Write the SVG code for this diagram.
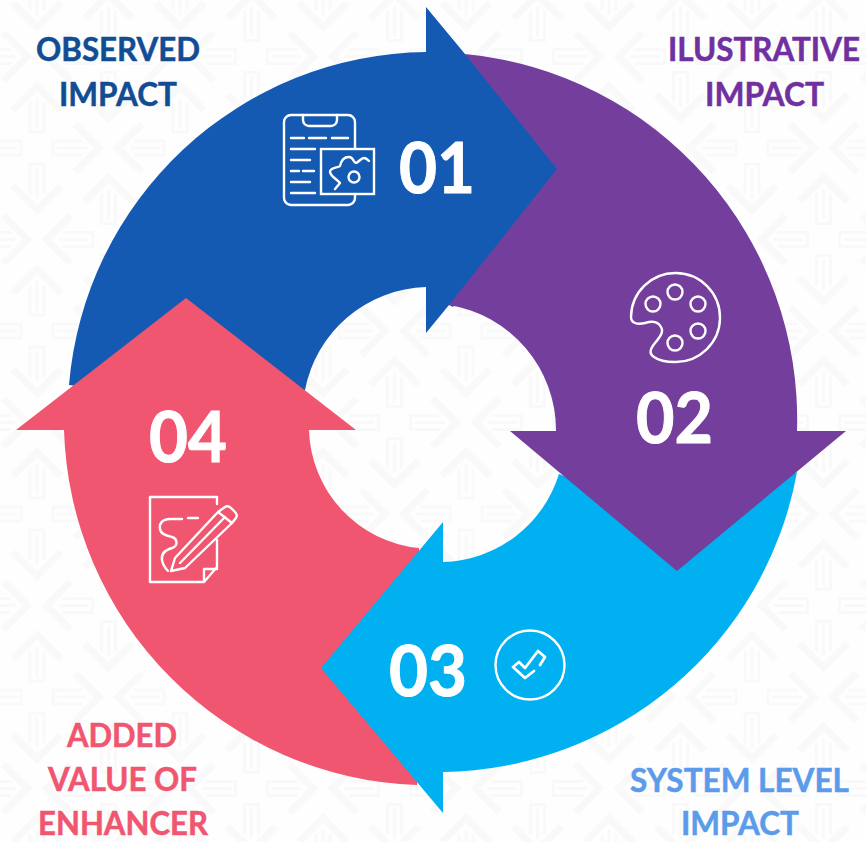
<svg xmlns="http://www.w3.org/2000/svg" width="866" height="842" viewBox="0 0 866 842">
<style>
.lbl{font-family:"Lato","Open Sans","Liberation Sans",sans-serif;font-weight:700;font-size:32px;text-anchor:middle;stroke-width:.5}
.num{font-family:"Lato","Open Sans","Liberation Sans",sans-serif;font-weight:700;font-size:71px;fill:#fff;stroke:#fff;stroke-width:1;text-anchor:middle}
.ic{fill:none;stroke:#fff;stroke-width:2.4;stroke-linecap:round;stroke-linejoin:round}
.pa{fill:none;stroke:#f9f9f9;stroke-width:7;stroke-linejoin:miter}
.pb{fill:none;stroke:#f9f9f9;stroke-width:3}
</style>
<defs>
<g id="ar"><path class="pa" d="M-24 -38 L0 -62 L24 -38"/><path class="pb" d="M-7 -46 V-16 H7 V-46 M0 -50 V-20"/></g>
<g id="cr"><use href="#ar"/><use href="#ar" transform="rotate(90)"/><use href="#ar" transform="rotate(180)"/><use href="#ar" transform="rotate(270)"/></g>
<pattern id="bgp" patternUnits="userSpaceOnUse" x="37" y="148" width="143" height="183">
<use href="#cr"/><use href="#cr" x="143"/><use href="#cr" y="183"/><use href="#cr" x="143" y="183"/><use href="#cr" x="71.5" y="91.5"/>
</pattern>
</defs>
<rect id="background" width="866" height="842" fill="#fefefe"/>
<rect width="866" height="842" fill="url(#bgp)"/>
<g id="node-01">
<path fill="#145ab2" d="M69 385 A363 363 0 0 1 426 52 V7 L465 54 L470 58 L562 169 L453 307 L449 305 L426 333 V287 A127 127 0 0 0 305 390 L186 400 Z"/>
<text class="num" x="437" y="193" textLength="76" lengthAdjust="spacingAndGlyphs">01</text>
<path class="ic" d="M355 148 V122 A7 7 0 0 0 348 115 H291 A7 7 0 0 0 284 122 V198 A7 7 0 0 0 291 205 H348 A7 7 0 0 0 355 198 V194"/>
<path class="ic" d="M303 115 V120 A6 6 0 0 0 309 126 H331 A6 6 0 0 0 337 120 V115"/>
<path class="ic" d="M291 138 H304 M309 138 H326 M332 138 H348 M291 149 H315 M291 160 H310 M291 171 H299 M303 171 H314 M291 182 H310 M291 193 H315"/>
<rect class="ic" x="321" y="149" width="53" height="45" style="stroke-linejoin:miter"/>
<path class="ic" d="M335 189 L340 183 C337 179 331 177 330 172 C330 167 338 168 340 166 C341 161 344 157 349 157 C354 157 353 163 356 163 C359 162 361 158 364 158 C366 158 368 160 369 161"/>
<circle class="ic" cx="354" cy="177" r="5.500"/>
<text class="lbl" x="118" y="61" fill="#124d94" stroke="#124d94" textLength="164" lengthAdjust="spacingAndGlyphs">OBSERVED</text>
<text class="lbl" x="118" y="106" fill="#124d94" stroke="#124d94" textLength="118" lengthAdjust="spacingAndGlyphs">IMPACT</text>
</g>
<g id="node-04">
<path fill="#f0566f" d="M64 430 A366 366 0 0 0 417 785 L430 668 L419 548 A122 122 0 0 1 309 430 H356 L186 298 L16 430 Z"/>
<text class="num" x="188" y="462" textLength="78" lengthAdjust="spacingAndGlyphs">04</text>
<path class="ic" d="M217 504 V497 H150 V582 H204 L217 567 V540 M204 582 V569 H217"/>
<path class="ic" d="M182 519 H170 C162 519 159 524 160 529 C161 535 168 536 172 537 C178 539 178 546 172 548 C165 550 161 554 162 560 C163 566 166 569 168 571"/>
<path class="ic" d="M188 518 H198"/>
<path class="ic" d="M171 571 L175 558 L218 512 L225 507 Q228 505 231 508 L235 512 Q238 515 236 518 L232 523 L185 568 Z M180 563 L225 517 M218 512 L232 523"/>
<text class="lbl" x="122" y="747" fill="#f0566f" stroke="#f0566f" textLength="110" lengthAdjust="spacingAndGlyphs">ADDED</text>
<text class="lbl" x="122.500" y="791" fill="#f0566f" stroke="#f0566f" textLength="149" lengthAdjust="spacingAndGlyphs">VALUE OF</text>
<text class="lbl" x="123" y="835" fill="#f0566f" stroke="#f0566f" textLength="170" lengthAdjust="spacingAndGlyphs">ENHANCER</text>
</g>
<g id="node-03">
<path fill="#00b0f0" d="M559 474 L677 520 L797 472 A365 365 0 0 1 443 772 V813 L321 668 L443 522 V562 A125 125 0 0 0 559 474 Z"/>
<text class="num" x="428" y="696" textLength="78" lengthAdjust="spacingAndGlyphs">03</text>
<circle class="ic" cx="530" cy="665" r="34.5"/>
<path class="ic" style="stroke-width:2.800" d="M540 665 L545 657 L538 651 L525 668 L519 662 L513 667 L525 678 L534 671"/>
<text class="lbl" x="739.500" y="792" fill="#5b9bea" stroke="#5b9bea" textLength="219" lengthAdjust="spacingAndGlyphs">SYSTEM LEVEL</text>
<text class="lbl" x="740" y="835" fill="#5b9bea" stroke="#5b9bea" textLength="118" lengthAdjust="spacingAndGlyphs">IMPACT</text>
</g>
<g id="node-02">
<path fill="#743f9c" d="M465 54 A367 367 0 0 1 797 431 H846 L677 571 L510 431 H556 A127 127 0 0 0 449 305 L557 169 Z"/>
<text class="num" x="674.500" y="443" textLength="77" lengthAdjust="spacingAndGlyphs">02</text>
<path class="ic" d="M631 317 A44.500 44.500 0 1 1 675 362 C666 362 658 360 654 357 C648 353 651 348 655 343 C660 337 664 332 661 327 C658 321 651 321 645 323 C637 325 631 323 631 317 Z"/>
<circle class="ic" cx="675" cy="292" r="7.500"/>
<circle class="ic" cx="653" cy="304" r="7.500"/>
<circle class="ic" cx="698" cy="304" r="7.500"/>
<circle class="ic" cx="698" cy="331" r="7.500"/>
<circle class="ic" cx="675" cy="343" r="7.500"/>
<text class="lbl" x="764" y="61" fill="#7030a0" stroke="#7030a0" textLength="192" lengthAdjust="spacingAndGlyphs">ILUSTRATIVE</text>
<text class="lbl" x="764.500" y="106" fill="#7030a0" stroke="#7030a0" textLength="119" lengthAdjust="spacingAndGlyphs">IMPACT</text>
</g>
</svg>
